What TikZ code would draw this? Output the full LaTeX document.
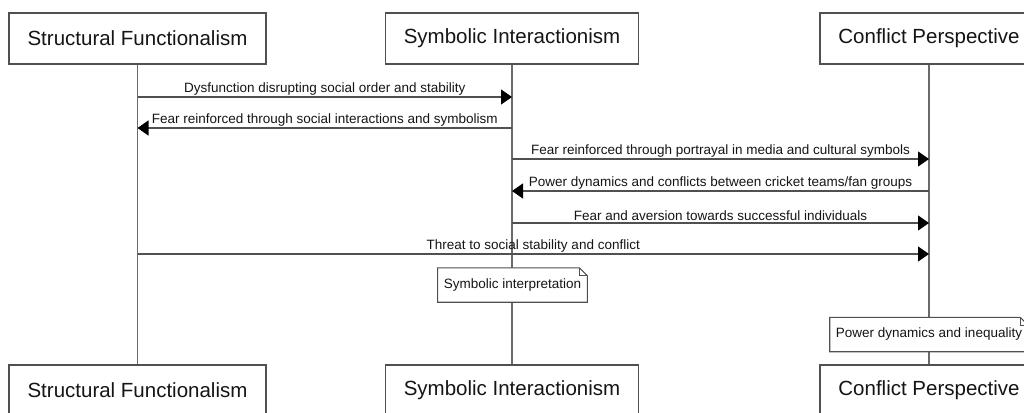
\documentclass[tikz,border=0pt]{standalone}
\usepackage{fontspec}
\setmainfont{Liberation Sans}
\usetikzlibrary{arrows.meta}
\definecolor{linec}{HTML}{505050}
\definecolor{lifec}{HTML}{6A6A6A}
\definecolor{txt}{HTML}{151515}
\begin{document}
\begin{tikzpicture}[x=1pt,y=-1pt,
  actor/.style={draw=linec, line width=1.2pt, fill=white, text=txt, minimum height=51pt, inner sep=0pt, font=\fontsize{20.5}{24}\selectfont},
  life/.style={draw=lifec, line width=1.4pt},
  msg/.style={draw=linec, line width=1.1pt, -{Triangle[length=11pt,width=15pt,color=black]}},
  lbl/.style={text=txt, font=\fontsize{13.5}{16}\selectfont, inner sep=1.5pt, anchor=south},
  notebox/.style={fill=white, text=txt, font=\fontsize{13.5}{16}\selectfont, minimum height=34pt, inner xsep=6pt, inner ysep=0pt},
  notedraw/.style={draw=linec, line width=1.1pt}]
\clip (0,0) rectangle (1024,412);
\fill[white] (0,0) rectangle (1024,412);
% actors
\node[actor, minimum width=257pt] (sfT) at (137.5,38.5) {Structural Functionalism};
\node[actor, minimum width=253pt] (siT) at (512,38.5) {Symbolic Interactionism};
\node[actor, minimum width=218pt] (cpT) at (929,38.5) {Conflict Perspective};
\node[actor, minimum width=257pt] (sfB) at (137.5,390.5) {Structural Functionalism};
\node[actor, minimum width=253pt] (siB) at (512,390.5) {Symbolic Interactionism};
\node[actor, minimum width=218pt] (cpB) at (929,390.5) {Conflict Perspective};
% lifelines
\draw[life] (sfT.south) -- (sfB.north);
\draw[life] (siT.south) -- (siB.north);
\draw[life] (cpT.south) -- (cpB.north);
% message rows
\coordinate (r1) at (0,97);
\coordinate (r2) at (0,128);
\coordinate (r3) at (0,159);
\coordinate (r4) at (0,191);
\coordinate (r5) at (0,223);
\coordinate (r6) at (0,254);
\draw[msg] (sfT.south |- r1) -- node[lbl]{Dysfunction disrupting social order and stability} (siT.south |- r1);
\draw[msg] (siT.south |- r2) -- node[lbl]{Fear reinforced through social interactions and symbolism} (sfT.south |- r2);
\draw[msg] (siT.south |- r3) -- node[lbl]{Fear reinforced through portrayal in media and cultural symbols} (cpT.south |- r3);
\draw[msg] (cpT.south |- r4) -- node[lbl]{Power dynamics and conflicts between cricket teams/fan groups} (siT.south |- r4);
\draw[msg] (siT.south |- r5) -- node[lbl]{Fear and aversion towards successful individuals} (cpT.south |- r5);
\draw[msg] (sfT.south |- r6) -- node[lbl]{Threat to social stability and conflict} (cpT.south |- r6);
% notes
\node[notebox] (n1) at (512.5,285) {Symbolic interpretation};
\draw[notedraw] (n1.north west) -- ([xshift=-8pt]n1.north east) -- ([yshift=-8pt]n1.north east) -- (n1.south east) -- (n1.south west) -- cycle;
\draw[notedraw] ([xshift=-8pt]n1.north east) -- ([xshift=-8pt,yshift=-8pt]n1.north east) -- ([yshift=-8pt]n1.north east);
\node[notebox] (n2) at (929,334.5) {Power dynamics and inequality};
\draw[notedraw] (n2.north west) -- ([xshift=-8pt]n2.north east) -- ([yshift=-8pt]n2.north east) -- (n2.south east) -- (n2.south west) -- cycle;
\draw[notedraw] ([xshift=-8pt]n2.north east) -- ([xshift=-8pt,yshift=-8pt]n2.north east) -- ([yshift=-8pt]n2.north east);
\end{tikzpicture}
\end{document}
